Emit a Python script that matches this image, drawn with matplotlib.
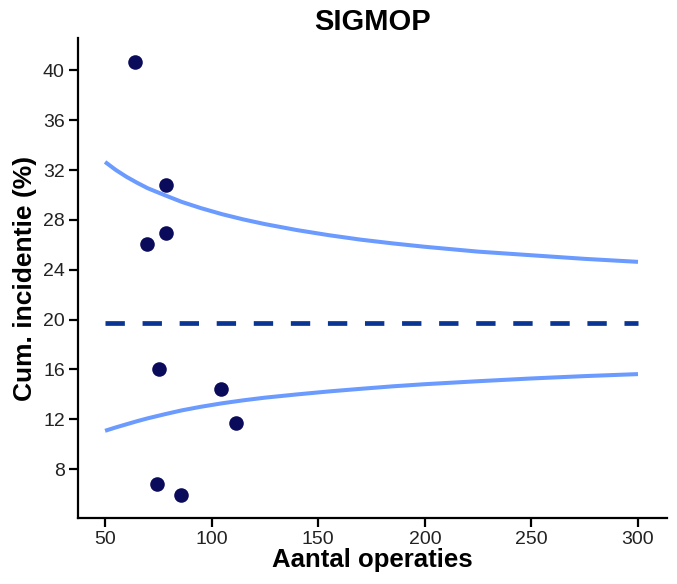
import matplotlib
matplotlib.use('Agg')
import matplotlib.pyplot as plt

# Ziekenhuizen: aantal operaties en cumulatieve incidentie (%)
aantal = [64, 78.5, 69.6, 78.5, 75.3, 104.4, 111.3, 74.5, 85.5]
incidentie = [40.64, 30.78, 26.1, 26.95, 16.0, 14.42, 11.72, 6.78, 5.9]

# Controlegrenzen
n_grens = [50, 55, 60, 65, 70, 78, 86, 95, 105, 115, 125, 140, 155,
           170, 185, 200, 225, 250, 275, 300]
bovengrens = [32.65, 32.01, 31.46, 30.98, 30.54, 29.98, 29.44, 28.94,
              28.45, 28.03, 27.66, 27.18, 26.77, 26.41, 26.11, 25.84,
              25.45, 25.16, 24.87, 24.63]
ondergrens = [11.07, 11.34, 11.59, 11.84, 12.07, 12.40, 12.71, 13.0,
              13.28, 13.52, 13.73, 13.99, 14.23, 14.44, 14.64, 14.81,
              15.05, 15.27, 15.46, 15.62]

gemiddelde = 19.74
n_lijn = [50, 300]

plt.rcParams['font.family'] = ['Liberation Sans', 'DejaVu Sans']

fig = plt.figure(figsize=(6.77, 5.84), dpi=100)
ax = fig.add_axes([0.1152, 0.113, 0.87, 0.822])

ax.plot(n_grens, bovengrens, color='#6b9bff', lw=2.9, solid_capstyle='butt')
ax.plot(n_grens, ondergrens, color='#6b9bff', lw=2.9, solid_capstyle='butt')
ax.plot(n_lijn, [gemiddelde, gemiddelde], color='#0a3592', lw=3.4,
        dashes=(4.1, 3.75), dash_capstyle='butt')
ax.scatter(aantal, incidentie, s=110, color='#0b0b5c', zorder=3, linewidths=0)

ax.set_xlim(37.3, 313.6)
ax.set_ylim(4.07, 42.6)
ax.set_xticks([50, 100, 150, 200, 250, 300])
ax.set_yticks([8, 12, 16, 20, 24, 28, 32, 36, 40])

for s in ['top', 'right']:
    ax.spines[s].set_visible(False)
for s in ['left', 'bottom']:
    ax.spines[s].set_linewidth(1.6)
ax.tick_params(axis='both', length=6.5, width=1.6, labelsize=14, pad=3,
               labelcolor='#222222')

ax.set_xlabel('Aantal operaties', fontsize=18.5, fontweight='bold', labelpad=0)
ax.set_ylabel('Cum. incidentie (%)', fontsize=19, fontweight='bold', labelpad=4)
ax.set_title('SIGMOP', fontsize=21, fontweight='bold', pad=6)

fig.savefig('out.png', dpi=100)
